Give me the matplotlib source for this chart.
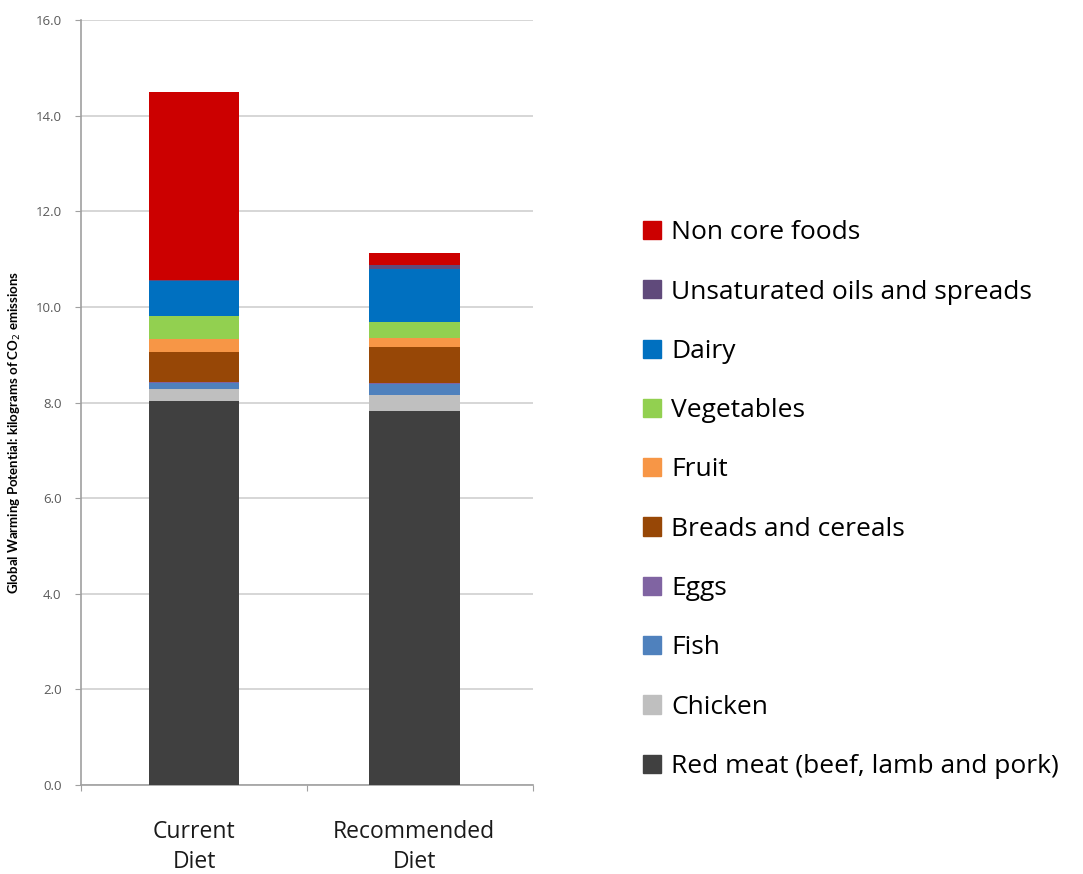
import matplotlib
matplotlib.use('Agg')
import matplotlib.pyplot as plt
from matplotlib.patches import Patch
import numpy as np

plt.rcParams['font.family'] = ['Open Sans', 'DejaVu Sans']

diets = ['Current\nDiet', 'Recommended\nDiet']
# stacked from the bottom up
categories = ['Red meat (beef, lamb and pork)', 'Chicken', 'Fish', 'Eggs',
              'Breads and cereals', 'Fruit', 'Vegetables', 'Dairy',
              'Unsaturated oils and spreads', 'Non core foods']
colors = ['#404040', '#BFBFBF', '#4F81BD', '#8064A2', '#974706',
          '#F79646', '#92D050', '#0070C0', '#604A7B', '#CC0000']
current = [8.04, 0.24, 0.12, 0.02, 0.63, 0.28, 0.48, 0.74, 0.02, 3.93]
recommended = [7.83, 0.33, 0.23, 0.02, 0.75, 0.18, 0.34, 1.11, 0.09, 0.25]

values = np.array([current, recommended]).T
x = np.array([0.5, 1.475])

fig = plt.figure(figsize=(10.83, 8.74), dpi=100)
ax = fig.add_axes([0.0748, 0.1018, 0.4173, 0.8753])

bottom = np.zeros(2)
for i, cat in enumerate(categories):
    ax.bar(x, values[i], 0.4, bottom=bottom, color=colors[i], label=cat, zorder=3)
    bottom += values[i]

ax.set_xlim(0, 2)
ax.set_ylim(0, 16)
ax.set_yticks(np.arange(0, 16.1, 2))
ax.set_yticklabels(['%.1f' % v for v in np.arange(0, 16.1, 2)], fontsize=9.5, color='#595959')
ax.grid(axis='y', color='#D0D0D0', linewidth=1.2, zorder=0)
ax.set_xticks([0, 1, 2])
ax.set_xticklabels([])
ax.set_xticks(x, minor=True)
ax.set_xticklabels(diets, minor=True, fontsize=16.5, color='#1a1a1a', linespacing=1.35)
ax.tick_params(axis='x', which='minor', length=0, pad=25)
ax.tick_params(axis='both', which='major', direction='out', length=4, color='#A0A0A0')
ax.tick_params(axis='y', pad=10)
for s in ['top', 'right']:
    ax.spines[s].set_visible(False)
for s in ['left', 'bottom']:
    ax.spines[s].set_color('#A0A0A0')
    ax.spines[s].set_linewidth(1.2)
ax.set_ylabel('Global Warming Potential: kilograms of CO$_2$ emissions',
              fontsize=9.5, fontweight='bold', family=['Lato', 'DejaVu Sans'])
ax.yaxis.set_label_coords(-0.128, 0.461)

handles = [Patch(color=colors[i], label=categories[i]) for i in range(len(categories))][::-1]
fig.legend(handles=handles, loc='upper left', bbox_to_anchor=(0.594, 0.748),
           frameon=False, fontsize=19, handlelength=0.68, handleheight=0.68,
           handletextpad=0.38, labelspacing=1.3, borderpad=0, borderaxespad=0)

fig.savefig('out.png', dpi=100)
